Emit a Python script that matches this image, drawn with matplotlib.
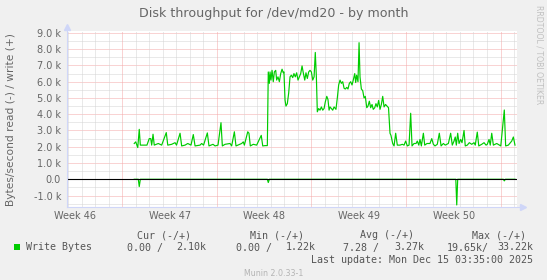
import matplotlib

matplotlib.use("Agg")
import matplotlib.pyplot as plt
import numpy as np
from matplotlib.patches import Rectangle

# munin look
BACK = "#F0F0F0"
CANVAS = "#FFFFFF"
FONT = "#666666"
AXIS = "#CFD6F8"
GRID = "#D4D4D4"
MGRID = "#F4A8A8"
GREEN = "#00CC00"

W, H = 547, 280  # output size in px (dpi 100)

TITLE = "Disk throughput for /dev/md20 - by month"
Y_LABEL = "Bytes/second read (-) / write (+)"

# time axis: days since the left edge of the graph window
WINDOW_DAYS = 33.33
FIRST_WEEK_LINE = 4.11  # first week boundary inside the window
WEEK_LABELS = ["Week 46", "Week 47", "Week 48", "Week 49", "Week 50"]

# write rate (k bytes/s)
WRITE_DAYS = [
    5.00, 5.11, 5.26, 5.37, 5.45, 5.65, 5.94, 6.11, 6.22, 6.29, 6.39, 6.48,
    6.78, 7.03, 7.37, 7.48, 7.77, 8.02, 8.13, 8.39, 8.51, 8.76, 8.96, 9.20,
    9.37, 9.50, 9.87, 9.99, 10.13, 10.41, 10.53, 10.83, 10.98, 11.20, 11.42,
    11.52, 11.72, 12.09, 12.21, 12.41, 12.53, 12.95, 13.07, 13.15, 13.40,
    13.49, 13.59, 13.81, 14.06, 14.40, 14.51, 14.68, 14.85,
    14.92, 15.00, 15.05, 15.12, 15.20, 15.29, 15.37, 15.47, 15.54, 15.64,
    15.74, 15.84, 15.94, 16.03, 16.08, 16.16, 16.23, 16.33, 16.43, 16.53,
    16.63, 16.73, 16.82, 16.92, 17.02, 17.12, 17.22, 17.32, 17.42, 17.51,
    17.62, 17.71, 17.81, 17.91, 18.01, 18.11, 18.21, 18.31, 18.40, 18.48,
    18.55, 18.65, 18.75, 18.85, 18.95, 19.05, 19.14, 19.25, 19.34, 19.42,
    19.49, 19.59, 19.69, 19.79, 19.93, 20.03, 20.13, 20.23, 20.33, 20.43,
    20.53, 20.62, 20.73, 20.82, 20.92, 21.02, 21.12, 21.21, 21.32, 21.39,
    21.46, 21.56, 21.64, 21.71, 21.81, 21.91, 22.01, 22.10, 22.21, 22.30,
    22.40, 22.50, 22.60, 22.69, 22.80, 22.89, 22.99, 23.09, 23.19, 23.29,
    23.39, 23.49, 23.60, 23.71, 23.82,
    23.93, 24.00, 24.13, 24.23, 24.35, 24.47, 24.67, 24.84, 24.97, 25.09,
    25.21, 25.34, 25.46, 25.56, 25.71, 25.86, 25.95, 26.06, 26.15, 26.25,
    26.40, 26.50, 26.67, 26.89, 27.02, 27.14, 27.26, 27.43, 27.58, 27.71,
    27.88, 28.02, 28.25, 28.42, 28.54, 28.67, 28.76, 28.84, 28.94, 29.04,
    29.16, 29.26, 29.41, 29.50, 29.65, 29.80, 29.98, 30.15, 30.24, 30.39,
    30.50, 30.72, 30.89, 31.04, 31.13, 31.26, 31.35, 31.46, 31.58, 31.83,
    32.02, 32.13, 32.39, 32.49, 32.69, 32.94, 33.06, 33.18,
]
WRITE_KB = [
    2.20, 2.30, 1.95, 3.07, 2.10, 2.10, 2.10, 2.50, 2.50, 2.10, 2.77, 2.10,
    2.20, 2.10, 2.87, 2.10, 2.15, 2.25, 2.10, 2.83, 2.05, 2.10, 2.20, 2.10,
    2.75, 2.05, 2.10, 2.20, 2.10, 2.85, 2.05, 2.15, 2.05, 2.10, 3.48,
    2.05, 2.15, 2.20, 2.05, 2.92, 2.05, 2.20, 2.30, 2.10, 2.92,
    2.83, 2.05, 2.15, 2.10, 2.70, 2.05, 2.07, 2.07,
    6.60, 5.90, 6.60, 6.10, 6.70, 6.00, 6.60, 6.70, 6.10, 6.30,
    6.00, 6.50, 6.77, 6.55, 6.60, 4.88, 4.50, 4.65, 5.30, 6.30,
    6.40, 6.25, 6.50, 6.30, 6.55, 6.10, 6.30, 6.50, 6.97, 6.55,
    6.10, 6.55, 6.20, 6.60, 6.70, 6.60, 6.10, 6.30, 7.80, 6.30,
    4.15, 4.35, 4.25, 4.45, 4.25, 4.35, 4.75, 5.10, 4.90, 4.25,
    4.45, 4.35, 4.25, 4.45, 4.30, 5.00, 5.80, 6.10, 5.90, 6.00,
    5.60, 5.55, 5.65, 5.55, 5.90, 6.00, 5.80, 6.10, 6.50, 5.95,
    6.40, 6.00, 8.40, 6.30, 5.55, 5.45, 5.00, 5.10, 4.40, 4.50,
    4.80, 4.40, 4.60, 4.30, 4.40, 4.65, 4.45, 4.85, 4.30, 4.60,
    5.10, 4.45, 4.60, 4.50, 4.40,
    2.83, 2.70, 2.20, 2.05, 2.83, 2.10, 2.10, 2.15, 2.10, 2.35,
    2.05, 2.10, 4.06, 2.05, 2.20, 2.20, 2.35, 2.10, 2.45, 2.05,
    2.83, 2.10, 2.20, 2.20, 2.50, 2.15, 2.05, 2.15, 2.83, 2.05,
    2.20, 2.10, 2.20, 2.83, 2.10, 2.35, 2.60, 2.10, 2.83, 2.20,
    2.45, 2.25, 3.00, 2.05, 2.10, 2.25, 2.15, 2.25, 2.10, 2.90,
    2.05, 2.15, 2.25, 2.10, 2.15, 2.45, 2.10, 2.83, 2.10, 2.20,
    2.10, 2.05, 4.26, 2.05, 2.10, 2.35, 2.60, 2.10,
]

# read rate (k bytes/s), drawn below zero
READ_DAYS = [5.00, 5.30, 5.37, 5.45, 14.85, 14.92, 15.00, 28.80, 28.87, 28.94,
             32.32, 32.39, 32.47, 33.18]
READ_KB = [0.0, 0.0, 0.45, 0.0, 0.0, 0.20, 0.0, 0.0, 1.58, 0.0,
           0.0, 0.10, 0.0, 0.0]

LEGEND_NAME = "Write Bytes"
LEGEND_HEADERS = ["Cur (-/+)", "Min (-/+)", "Avg (-/+)", "Max (-/+)"]
LEGEND_READ = ["0.00 /", "0.00 /", "7.28 /", "19.65k/"]
LEGEND_WRITE = ["2.10k", "1.22k", "3.27k", "33.22k"]
LAST_UPDATE = "Last update: Mon Dec 15 03:35:00 2025"
VERSION = "Munin 2.0.33-1"
WATERMARK = "RRDTOOL / TOBI OETIKER"


def fx(px):
    return px / W


def fy(py):
    return 1 - py / H


def ytick_label(v, _pos=None):
    if v == 0:
        return "0.0"
    return f"{v / 1000:.1f} k"


fig = plt.figure(figsize=(W / 100, H / 100), dpi=100, facecolor=BACK)

# graph area in px
left, right, top, bottom = 66.7, 517.0, 30.5, 206.9
ax = fig.add_axes([fx(left), fy(bottom), (right - left) / W, (bottom - top) / H])
ax.set_facecolor(CANVAS)
ax.set_xlim(0, WINDOW_DAYS)
ax.set_ylim(-1700, 9150)
for s in ax.spines.values():
    s.set_visible(False)

# dotted grid like rrdtool: minor grey, major red
dots = (0, (1, 1))
for v in range(-1500, 9001, 500):
    ax.axhline(v, color=MGRID if v % 1000 == 0 else GRID, lw=0.72, ls=dots, zorder=1)
for k in range(int(WINDOW_DAYS) + 1):
    d = FIRST_WEEK_LINE - 4 + k
    if d > WINDOW_DAYS:
        break
    ax.axvline(d, color=MGRID if (k - 4) % 7 == 0 else GRID, lw=0.72, ls=dots, zorder=1)

ax.plot(WRITE_DAYS, np.array(WRITE_KB) * 1000, color=GREEN, lw=0.85, zorder=3)
ax.plot(READ_DAYS, -np.array(READ_KB) * 1000, color=GREEN, lw=0.85, zorder=3)
ax.axhline(0, color="black", lw=0.8, zorder=4)

ax.set_yticks(range(-1000, 9001, 1000))
ax.yaxis.set_major_formatter(plt.FuncFormatter(ytick_label))
ax.set_xticks([FIRST_WEEK_LINE - 3.47 + 7 * i for i in range(len(WEEK_LABELS))])
ax.set_xticklabels(WEEK_LABELS)
ax.tick_params(axis="y", length=0, pad=4.1, labelsize=7.05, labelcolor=FONT)
ax.tick_params(axis="x", length=0, pad=2.6, labelsize=7.05, labelcolor=FONT)

# axes with arrow heads
ext_x = 5.5 / (right - left)
ext_y = 3.5 / (bottom - top)
ax.plot([0, 1 + ext_x], [0, 0], transform=ax.transAxes, color=AXIS, lw=0.8, clip_on=False, zorder=5)
ax.plot([0, 0], [0, 1 + ext_y], transform=ax.transAxes, color=AXIS, lw=0.8, clip_on=False, zorder=5)
ax.plot([1 + ext_x], [0], transform=ax.transAxes, marker=">", ms=4, color=AXIS, clip_on=False, zorder=5)
ax.plot([0], [1 + ext_y], transform=ax.transAxes, marker="^", ms=4, color=AXIS, clip_on=False, zorder=5)

fig.text(fx(273.4), fy(13.5), TITLE, ha="center", va="center", fontsize=9.07, color=FONT)
fig.text(fx(11), fy(119.2), Y_LABEL, rotation=90, ha="center", va="center", fontsize=7.65, color=FONT)
fig.text(fx(539.5), fy(5), WATERMARK, rotation=270, ha="center", va="top", fontsize=5.6, color="#C0C0C0")

# legend block
mono = dict(family="DejaVu Sans Mono", fontsize=7.18, color="#555555", va="center")
for txt, x_end in zip(LEGEND_HEADERS, [191.2, 303.6, 414.5, 526.2]):
    fig.text(fx(x_end), fy(235.2), txt, ha="right", **mono)
fig.patches.append(Rectangle((fx(14), fy(249.5)), 5.9 / W, 5.9 / H, transform=fig.transFigure,
                             facecolor=GREEN, edgecolor="none"))
fig.text(fx(26.2), fy(247.5), LEGEND_NAME, ha="left", **mono)
for rd, x0 in zip(LEGEND_READ, [126.7, 235.9, 343.0, 447.0]):
    fig.text(fx(x0), fy(247.5), rd, ha="left", **mono)
for wr, x1 in zip(LEGEND_WRITE, [206.6, 316.1, 423.9, 533.2]):
    fig.text(fx(x1), fy(247.5), wr, ha="right", **mono)
fig.text(fx(533.2), fy(260.4), LAST_UPDATE, ha="right", **mono)
fig.text(fx(273.5), fy(273), VERSION, ha="center", va="center", fontsize=5.7, color="#B4B4B4")

fig.savefig("out.png", dpi=100, facecolor=BACK)
